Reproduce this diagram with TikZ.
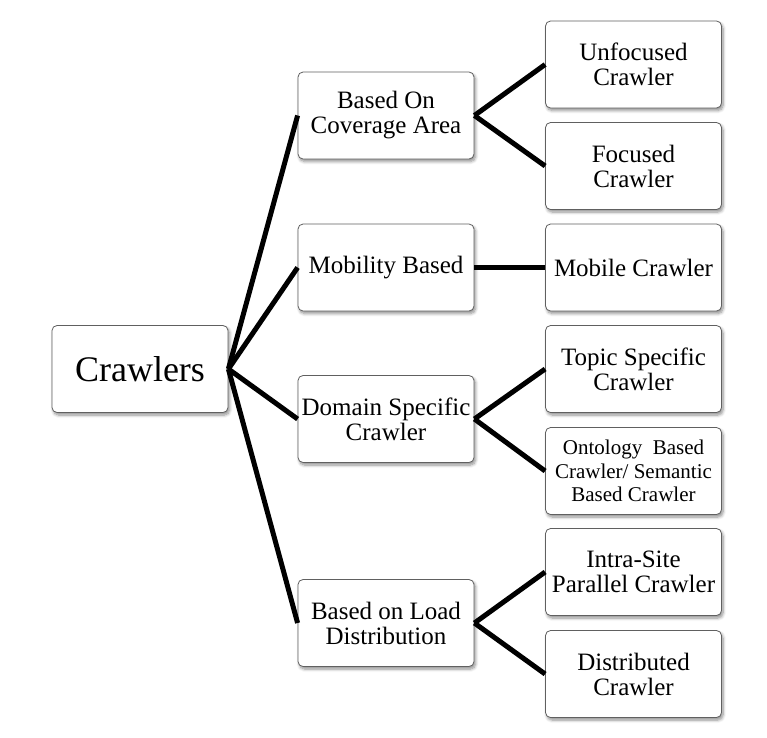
\documentclass[tikz,border=0pt]{standalone}
\usepackage{fontspec}
\setmainfont{Liberation Serif}
\usetikzlibrary{shadows.blur}
\tikzset{
  box/.style={draw=gray!75!black, line width=0.8pt, rounded corners=5pt, fill=white,
    minimum width=176pt, minimum height=87pt, align=center, inner xsep=1pt, inner ysep=2pt,
    blur shadow={shadow xshift=1.5pt, shadow yshift=-2.5pt, shadow blur steps=6, shadow blur radius=3pt, shadow opacity=45},
    font=\fontsize{25}{25}\selectfont},
  rootbox/.style={box, font=\fontsize{36}{36}\selectfont},
  smallbox/.style={box, font=\fontsize{21}{23.5}\selectfont},
  link/.style={line width=5pt, black}
}
\begin{document}
\begin{tikzpicture}[x=1pt,y=1pt]
\useasboundingbox (0,0) rectangle (767,-737);
\node[rootbox] (root) at (140,-369) {Crawlers};
\node[box] (cov) at (386,-115.5) {Based On\\Coverage Area};
\node[box] (mob) at (386,-267.5) {Mobility Based};
\node[box] (dom) at (386,-419) {Domain Specific\\Crawler};
\node[box] (load) at (386,-623) {Based on Load\\Distribution};
\node[box] (unf) at (633.5,-64.5) {Unfocused\\Crawler};
\node[box] (foc) at (633.5,-166) {Focused\\Crawler};
\node[box] (mobc) at (633.5,-267.5) {Mobile Crawler};
\node[box] (top) at (633.5,-369) {Topic Specific\\Crawler};
\node[smallbox] (ont) at (633.5,-471) {Ontology\ \ Based\\Crawler/ Semantic\\Based Crawler};
\node[box] (intra) at (633.5,-572) {Intra-Site\\Parallel Crawler};
\node[box] (dist) at (633.5,-674) {Distributed\\Crawler};
\draw[link] (root.east) -- (cov.west);
\draw[link] (root.east) -- (mob.west);
\draw[link] (root.east) -- (dom.west);
\draw[link] (root.east) -- (load.west);
\draw[link] (cov.east) -- (unf.west);
\draw[link] (cov.east) -- (foc.west);
\draw[link] (mob.east) -- (mobc.west);
\draw[link] (dom.east) -- (top.west);
\draw[link] (dom.east) -- (ont.west);
\draw[link] (load.east) -- (intra.west);
\draw[link] (load.east) -- (dist.west);
\end{tikzpicture}
\end{document}
